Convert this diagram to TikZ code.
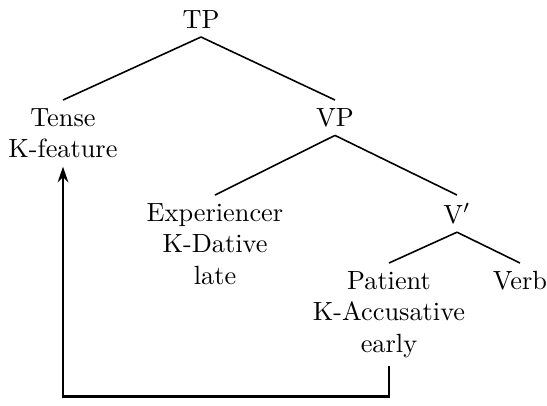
\documentclass[tikz,border=0pt]{standalone}
\usepackage{tikz}
\usetikzlibrary{positioning, arrows.meta}

\begin{document}
\begin{tikzpicture}[
                x=0.38pt, y=-0.38pt,
                word/.style={align=center, inner sep=3pt},
                branch/.style={line width=0.6pt},
                arrow/.style={-{Stealth[length=6pt, width=4pt]}, line width=0.9pt}
            ]
            \useasboundingbox (0,0) rectangle (547,405);
            \node[word, anchor=south] (tp) at (201,37) {TP};
            \node[word, anchor=north] (tense) at (63,100) {Tense\\K-feature};
            \node[word, anchor=north] (vp) at (335,100) {VP};
            \node[word, anchor=north] (exp) at (215,195) {Experiencer\\K-Dative\\late};
            \node[word, anchor=north] (vbar) at (457,195) {V$'$};
            \node[word, anchor=north] (pat) at (389,263) {Patient\\K-Accusative\\early};
            \node[word, anchor=north] (verb) at (520,263) {Verb};

            \draw[branch] (tp.south) -- (tense.north);
            \draw[branch] (tp.south) -- (vp.north);
            \draw[branch] (vp.south) -- (exp.north);
            \draw[branch] (vp.south) -- (vbar.north);
            \draw[branch] (vbar.south) -- (pat.north);
            \draw[branch] (vbar.south) -- (verb.north);

            \draw[arrow] (pat.south) -- ++(0,30) -| (tense.south);
        \end{tikzpicture}
\end{document}
